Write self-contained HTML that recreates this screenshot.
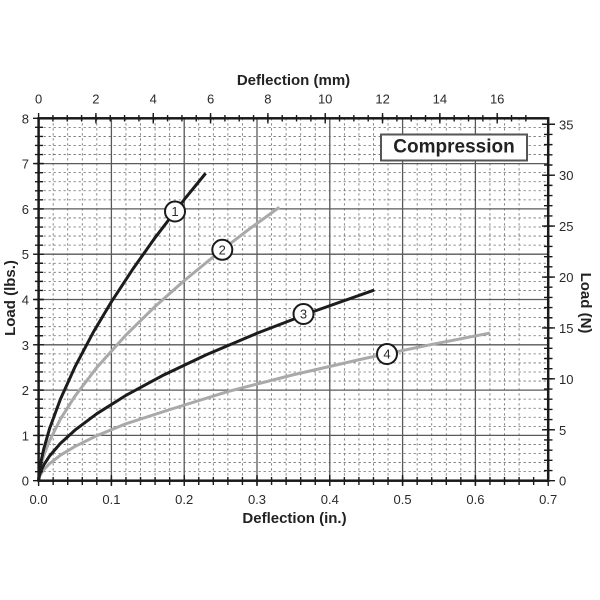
<!DOCTYPE html>
<html><head><meta charset="utf-8"><style>
html,body{margin:0;padding:0;background:#fff;}
svg{display:block;}
text{font-family:"Liberation Sans",Arial,sans-serif;fill:#2a2a2a;}
</style></head><body>
<svg width="600" height="600" viewBox="0 0 600 600" xmlns="http://www.w3.org/2000/svg">
<rect x="0" y="0" width="600" height="600" fill="#fff"/>
<!-- dotted minor grid -->
<g fill="none" stroke="#666" stroke-width="0.8" stroke-dasharray="2.2 2.8">
<path d="M53.16 118.3v362.4m14.56 -362.4v362.4m14.56 -362.4v362.4m14.56 -362.4v362.4m14.56 -362.4v362.4m14.56 -362.4v362.4m14.56 -362.4v362.4m14.56 -362.4v362.4m14.56 -362.4v362.4m14.56 -362.4v362.4m14.56 -362.4v362.4m14.56 -362.4v362.4m14.56 -362.4v362.4m14.56 -362.4v362.4m14.56 -362.4v362.4m14.56 -362.4v362.4m14.56 -362.4v362.4m14.56 -362.4v362.4m14.56 -362.4v362.4m14.56 -362.4v362.4m14.56 -362.4v362.4m14.56 -362.4v362.4m14.56 -362.4v362.4m14.56 -362.4v362.4m14.56 -362.4v362.4m14.56 -362.4v362.4m14.56 -362.4v362.4m14.56 -362.4v362.4m14.56 -362.4v362.4m14.56 -362.4v362.4m14.56 -362.4v362.4m14.56 -362.4v362.4m14.56 -362.4v362.4"/>
<path d="M38.6 471.64h509.6m-509.6 -9.06h509.6m-509.6 -9.06h509.6m-509.6 -9.06h509.6m-509.6 -9.06h509.6m-509.6 -9.06h509.6m-509.6 -9.06h509.6m-509.6 -9.06h509.6m-509.6 -9.06h509.6m-509.6 -9.06h509.6m-509.6 -9.06h509.6m-509.6 -9.06h509.6m-509.6 -9.06h509.6m-509.6 -9.06h509.6m-509.6 -9.06h509.6m-509.6 -9.06h509.6m-509.6 -9.06h509.6m-509.6 -9.06h509.6m-509.6 -9.06h509.6m-509.6 -9.06h509.6m-509.6 -9.06h509.6m-509.6 -9.06h509.6m-509.6 -9.06h509.6m-509.6 -9.06h509.6m-509.6 -9.06h509.6m-509.6 -9.06h509.6m-509.6 -9.06h509.6m-509.6 -9.06h509.6m-509.6 -9.06h509.6m-509.6 -9.06h509.6m-509.6 -9.06h509.6m-509.6 -9.06h509.6m-509.6 -9.06h509.6m-509.6 -9.06h509.6m-509.6 -9.06h509.6m-509.6 -9.06h509.6m-509.6 -9.06h509.6m-509.6 -9.06h509.6m-509.6 -9.06h509.6"/>
</g>
<!-- major grid -->
<g fill="none" stroke="#5a5a5a" stroke-width="1.3">
<path d="M111.4 118.3v362.4m72.8 -362.4v362.4m72.8 -362.4v362.4m72.8 -362.4v362.4m72.8 -362.4v362.4m72.8 -362.4v362.4"/>
<path d="M38.6 435.4h509.6m-509.6 -45.3h509.6m-509.6 -45.3h509.6m-509.6 -45.3h509.6m-509.6 -45.3h509.6m-509.6 -45.3h509.6m-509.6 -45.3h509.6"/>
</g>
<!-- curves -->
<g fill="none" stroke-width="3" stroke-linejoin="round" stroke-linecap="butt">
<polyline stroke="#a9a9a9" points="38.6,480.7 39.33,477.15 40.78,474.0 43.7,469.75 49.52,463.65 60.44,455.21 75.0,446.43 96.84,435.68 125.96,423.75 169.64,409.63 227.88,391.52 293.4,374.74 366.2,358.12 431.72,344.44 490.0,333.08"/>
<polyline stroke="#a9a9a9" points="38.6,480.7 39.33,473.25 40.78,465.95 43.7,455.75 49.52,440.66 60.44,419.09 75.0,396.08 96.84,367.45 125.96,335.02 155.08,306.48 184.2,280.61 220.6,250.89 249.72,228.7 279.35,207.27"/>
<polyline stroke="#1c1c1c" points="38.6,480.7 39.33,475.8 40.78,471.26 43.7,465.05 49.52,456.04 60.44,443.39 75.0,430.09 96.84,413.7 125.96,395.35 162.36,375.64 206.04,354.86 257.0,333.22 315.24,310.87 374.28,290.08"/>
<polyline stroke="#1c1c1c" points="38.6,480.7 39.33,471.82 40.78,462.53 43.7,449.13 49.52,428.79 60.44,399.11 75.0,366.86 93.2,332.39 111.4,301.81 133.24,268.47 155.08,237.67 184.2,199.61 205.68,173.25"/>
</g>
<!-- curve labels -->
<g fill="#fff" stroke="#1a1a1a" stroke-width="2">
<circle cx="175" cy="211.5" r="10"/>
<circle cx="222.3" cy="249.8" r="10"/>
<circle cx="303.5" cy="314" r="10"/>
<circle cx="387" cy="354" r="10"/>
</g>
<g font-size="13" text-anchor="middle">
<text x="175" y="216">1</text>
<text x="222.3" y="254.3">2</text>
<text x="303.5" y="318.5">3</text>
<text x="387" y="358.5">4</text>
</g>
<!-- Compression box -->
<rect x="381" y="134.5" width="146" height="26" fill="#fff" stroke="#555" stroke-width="2"/>
<text x="454" y="152.5" font-size="19" font-weight="bold" text-anchor="middle" style="fill:#222">Compression</text>
<!-- frame -->
<rect x="38.6" y="118.3" width="509.6" height="362.4" fill="none" stroke="#1a1a1a" stroke-width="2.5"/>
<!-- ticks -->
<g fill="none" stroke="#1a1a1a" stroke-width="1.4">
<path d="M35 471.64h8m-8 -9.06h8m-8 -9.06h8m-8 -9.06h8m-8 -9.06h8m-8 -9.06h8m-8 -9.06h8m-8 -9.06h8m-8 -9.06h8m-8 -9.06h8m-8 -9.06h8m-8 -9.06h8m-8 -9.06h8m-8 -9.06h8m-8 -9.06h8m-8 -9.06h8m-8 -9.06h8m-8 -9.06h8m-8 -9.06h8m-8 -9.06h8m-8 -9.06h8m-8 -9.06h8m-8 -9.06h8m-8 -9.06h8m-8 -9.06h8m-8 -9.06h8m-8 -9.06h8m-8 -9.06h8m-8 -9.06h8m-8 -9.06h8m-8 -9.06h8m-8 -9.06h8m-8 -9.06h8m-8 -9.06h8m-8 -9.06h8m-8 -9.06h8m-8 -9.06h8m-8 -9.06h8m-8 -9.06h8"/>
<path d="M33 480.7h11m-11 -45.3h11m-11 -45.3h11m-11 -45.3h11m-11 -45.3h11m-11 -45.3h11m-11 -45.3h11m-11 -45.3h11m-11 -45.3h11"/>
<path d="M53.16 477v8m14.56 -8v8m14.56 -8v8m14.56 -8v8m14.56 -8v8m14.56 -8v8m14.56 -8v8m14.56 -8v8m14.56 -8v8m14.56 -8v8m14.56 -8v8m14.56 -8v8m14.56 -8v8m14.56 -8v8m14.56 -8v8m14.56 -8v8m14.56 -8v8m14.56 -8v8m14.56 -8v8m14.56 -8v8m14.56 -8v8m14.56 -8v8m14.56 -8v8m14.56 -8v8m14.56 -8v8m14.56 -8v8m14.56 -8v8m14.56 -8v8m14.56 -8v8m14.56 -8v8m14.56 -8v8m14.56 -8v8m14.56 -8v8m14.56 -8v8"/>
<path d="M38.6 475v11m72.8 -11v11m72.8 -11v11m72.8 -11v11m72.8 -11v11m72.8 -11v11m72.8 -11v11m72.8 -11v11"/>
<path d="M52.93 115v6.5m14.331 -6.5v6.5m14.331 -6.5v6.5m14.331 -6.5v6.5m14.331 -6.5v6.5m14.331 -6.5v6.5m14.331 -6.5v6.5m14.331 -6.5v6.5m14.331 -6.5v6.5m14.331 -6.5v6.5m14.331 -6.5v6.5m14.331 -6.5v6.5m14.331 -6.5v6.5m14.331 -6.5v6.5m14.331 -6.5v6.5m14.331 -6.5v6.5m14.331 -6.5v6.5m14.331 -6.5v6.5m14.331 -6.5v6.5m14.331 -6.5v6.5m14.331 -6.5v6.5m14.331 -6.5v6.5m14.331 -6.5v6.5m14.331 -6.5v6.5m14.331 -6.5v6.5m14.331 -6.5v6.5m14.331 -6.5v6.5m14.331 -6.5v6.5m14.331 -6.5v6.5m14.331 -6.5v6.5m14.331 -6.5v6.5m14.331 -6.5v6.5m14.331 -6.5v6.5m14.331 -6.5v6.5"/>
<path d="M38.6 113v10.5m57.323 -10.5v10.5m57.323 -10.5v10.5m57.323 -10.5v10.5m57.323 -10.5v10.5m57.323 -10.5v10.5m57.323 -10.5v10.5m57.323 -10.5v10.5m57.323 -10.5v10.5"/>
<path d="M544 470.52h8.5m-8.5 -10.184h8.5m-8.5 -10.184h8.5m-8.5 -10.184h8.5m-8.5 -10.184h8.5m-8.5 -10.184h8.5m-8.5 -10.184h8.5m-8.5 -10.184h8.5m-8.5 -10.184h8.5m-8.5 -10.184h8.5m-8.5 -10.184h8.5m-8.5 -10.184h8.5m-8.5 -10.184h8.5m-8.5 -10.184h8.5m-8.5 -10.184h8.5m-8.5 -10.184h8.5m-8.5 -10.184h8.5m-8.5 -10.184h8.5m-8.5 -10.184h8.5m-8.5 -10.184h8.5m-8.5 -10.184h8.5m-8.5 -10.184h8.5m-8.5 -10.184h8.5m-8.5 -10.184h8.5m-8.5 -10.184h8.5m-8.5 -10.184h8.5m-8.5 -10.184h8.5m-8.5 -10.184h8.5m-8.5 -10.184h8.5m-8.5 -10.184h8.5m-8.5 -10.184h8.5m-8.5 -10.184h8.5m-8.5 -10.184h8.5m-8.5 -10.184h8.5"/>
<path d="M542 480.7h13m-13 -50.92h13m-13 -50.92h13m-13 -50.92h13m-13 -50.92h13m-13 -50.92h13m-13 -50.92h13m-13 -50.92h13"/>
</g>
<!-- tick labels -->
<g font-size="13" text-anchor="end">
<text x="29" y="485.7">0</text>
<text x="29" y="440.4">1</text>
<text x="29" y="395.1">2</text>
<text x="29" y="349.8">3</text>
<text x="29" y="304.5">4</text>
<text x="29" y="259.2">5</text>
<text x="29" y="213.9">6</text>
<text x="29" y="168.6">7</text>
<text x="29" y="123.3">8</text>
</g>
<g font-size="13" text-anchor="start">
<text x="559" y="485.7">0</text>
<text x="559" y="434.8">5</text>
<text x="559" y="383.9">10</text>
<text x="559" y="332.9">15</text>
<text x="559" y="282">20</text>
<text x="559" y="231.1">25</text>
<text x="559" y="180.2">30</text>
<text x="559" y="129.3">35</text>
</g>
<g font-size="13" text-anchor="middle">
<text x="38.6" y="504">0.0</text>
<text x="111.4" y="504">0.1</text>
<text x="184.2" y="504">0.2</text>
<text x="257" y="504">0.3</text>
<text x="329.8" y="504">0.4</text>
<text x="402.6" y="504">0.5</text>
<text x="475.4" y="504">0.6</text>
<text x="548.2" y="504">0.7</text>
<text x="38.6" y="103.5">0</text>
<text x="95.9" y="103.5">2</text>
<text x="153.2" y="103.5">4</text>
<text x="210.6" y="103.5">6</text>
<text x="267.9" y="103.5">8</text>
<text x="325.2" y="103.5">10</text>
<text x="382.6" y="103.5">12</text>
<text x="439.9" y="103.5">14</text>
<text x="497.2" y="103.5">16</text>
</g>
<!-- axis titles -->
<g font-size="15" font-weight="bold" text-anchor="middle" style="fill:#222">
<text x="293.5" y="85" style="fill:#222">Deflection (mm)</text>
<text x="294.5" y="523" style="fill:#222">Deflection (in.)</text>
<text transform="translate(15,298) rotate(-90)" style="fill:#222">Load (lbs.)</text>
<text transform="translate(581,303) rotate(90)" style="fill:#222">Load (N)</text>
</g>
</svg>
</body></html>
